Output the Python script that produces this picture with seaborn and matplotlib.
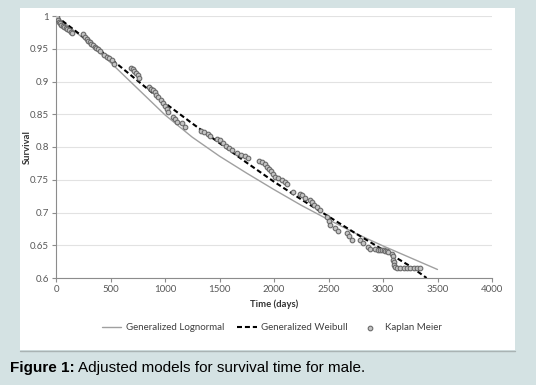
import seaborn as sns
import numpy as np
import pandas as pd
import matplotlib
matplotlib.use("Agg")
from matplotlib import pyplot as plt
from matplotlib.patches import Rectangle
from matplotlib.lines import Line2D

# fitted models
lognormal_days = [0, 250, 500, 750, 1000, 1250, 1500, 1750, 2000, 2250, 2500, 2750, 3000, 3250, 3500]
lognormal_surv = [1.000, 0.966, 0.929, 0.889, 0.849, 0.815, 0.786, 0.760, 0.735, 0.711, 0.689, 0.668, 0.649, 0.631, 0.613]

weibull_days = [0, 250, 500, 750, 1000, 1250, 1500, 1750, 2000, 2250, 2500, 2750, 3000, 3250, 3400]
weibull_surv = [1.000, 0.968, 0.935, 0.901, 0.867, 0.836, 0.806, 0.776, 0.747, 0.720, 0.694, 0.668, 0.643, 0.618, 0.600]

# Kaplan Meier estimates
km_days = [5, 15, 25, 35, 50, 60, 75, 90, 105, 120, 140, 150,
           250, 265, 280, 295, 310, 325, 340, 355, 370, 385, 400,
           440, 465, 490, 510, 530,
           690, 705, 720, 735, 750, 765,
           850, 870, 890, 905, 920, 940, 960, 980,
           1000, 1015, 1030, 1075, 1095, 1110, 1160, 1185,
           1330, 1360, 1390, 1410, 1480, 1500, 1530, 1560, 1590, 1615,
           1665, 1700, 1735, 1760,
           1860, 1890, 1915, 1935, 1955, 1975, 1990, 2010,
           2040, 2070, 2100, 2120, 2175, 2240, 2260, 2285, 2330, 2350, 2370, 2395, 2420,
           2485, 2500, 2515, 2560, 2590,
           2670, 2690, 2715,
           2790, 2820, 2860, 2880,
           2930, 2950, 2970, 2990, 3005, 3020, 3035, 3050,
           3080, 3090, 3095, 3100, 3105, 3110,
           3130, 3160, 3190, 3220, 3250, 3280, 3310, 3340]
km_surv = [0.998, 0.994, 0.991, 0.989, 0.987, 0.985, 0.983, 0.982, 0.980, 0.978, 0.976, 0.974,
           0.972, 0.968, 0.965, 0.962, 0.960, 0.958, 0.955, 0.953, 0.951, 0.949, 0.947,
           0.941, 0.938, 0.936, 0.933, 0.927,
           0.921, 0.919, 0.916, 0.913, 0.910, 0.906,
           0.892, 0.889, 0.887, 0.884, 0.880, 0.876, 0.872, 0.867,
           0.862, 0.858, 0.853, 0.846, 0.843, 0.838, 0.836, 0.830,
           0.825, 0.823, 0.820, 0.817, 0.812, 0.810, 0.806, 0.802, 0.798, 0.795,
           0.791, 0.788, 0.786, 0.783,
           0.779, 0.777, 0.774, 0.770, 0.767, 0.763, 0.759, 0.754,
           0.752, 0.749, 0.747, 0.744, 0.731, 0.729, 0.726, 0.722, 0.719, 0.716, 0.712, 0.708, 0.704,
           0.693, 0.687, 0.681, 0.677, 0.671,
           0.669, 0.664, 0.658,
           0.658, 0.653, 0.648, 0.645,
           0.644, 0.643, 0.643, 0.642, 0.642, 0.641, 0.641, 0.640,
           0.637, 0.633, 0.628, 0.624, 0.620, 0.617,
           0.616, 0.616, 0.616, 0.616, 0.616, 0.616, 0.616, 0.616]

x_ticks = [0, 500, 1000, 1500, 2000, 2500, 3000, 3500, 4000]
y_ticks = [0.6, 0.65, 0.7, 0.75, 0.8, 0.85, 0.9, 0.95, 1.0]
y_tick_labels = ['0.6', '0.65', '0.7', '0.75', '0.8', '0.85', '0.9', '0.95', '1']

sns.set_theme(style="white")
plt.rcParams['font.family'] = ['Lato', 'DejaVu Sans']

W, H = 536, 385
fig = plt.figure(figsize=(W / 100, H / 100), dpi=100)
fig.patch.set_facecolor('#d4e2e3')

# white chart panel
fig.add_artist(Rectangle((20 / W, 1 - 350 / H), 495 / W, 342 / H,
                         transform=fig.transFigure, facecolor='white',
                         edgecolor='none', zorder=0))
fig.add_artist(Line2D([20 / W, 515 / W], [1 - 350.5 / H, 1 - 350.5 / H],
                      transform=fig.transFigure, color='#a9b3b3', lw=1))

ax = fig.add_axes([56 / W, 1 - 278 / H, 436 / W, 262 / H])
ax.set_facecolor('white')

sns.lineplot(x=lognormal_days, y=lognormal_surv, ax=ax, color='#a0a0a0',
             lw=1.0, label='Generalized Lognormal')
sns.lineplot(x=weibull_days, y=weibull_surv, ax=ax, color='black',
             lw=1.5, linestyle=(0, (2.4, 1.4)), label='Generalized Weibull')
sns.scatterplot(x=km_days, y=km_surv, ax=ax, s=11, marker='o',
                color='#c4c4c4', edgecolor='#6a6a6a', linewidth=0.8,
                label='Kaplan Meier', zorder=3)

ax.set_xlim(0, 4000)
ax.set_ylim(0.6, 1.0)
ax.set_xticks(x_ticks)
ax.set_yticks(y_ticks)
ax.set_yticklabels(y_tick_labels)

ax.yaxis.grid(True, color='#e2e2e2', lw=0.8)
ax.xaxis.grid(False)
for side in ['top', 'right']:
    ax.spines[side].set_visible(False)
for side in ['left', 'bottom']:
    ax.spines[side].set_color('#8c8c8c')
    ax.spines[side].set_linewidth(0.8)
ax.tick_params(bottom=True, left=True, direction='out', length=3, width=0.8,
               color='#8c8c8c', labelsize=7, labelcolor='#595959', pad=2)

ax.set_xlabel('Time (days)', fontsize=6.8, fontweight='bold', color='#333333', labelpad=4)
ax.set_ylabel('Survival', fontsize=6.8, fontweight='bold', color='#333333')
ax.yaxis.set_label_coords(-0.055, 0.5)

leg = ax.legend(loc='center', bbox_to_anchor=(0.495, -0.19), ncol=3, frameon=False,
                fontsize=7, handlelength=2.0, columnspacing=1.3, handletextpad=0.5)
for t in leg.get_texts():
    t.set_color('#404040')

# caption
cap1 = fig.text(10 / W, 1 - 368 / H, 'Figure 1:', fontsize=11, fontweight='bold',
                family=['Liberation Sans'], va='center', color='black')
fig.canvas.draw()
bb = cap1.get_window_extent()
fig.text((bb.x1 + 3) / W, 1 - 368 / H, 'Adjusted models for survival time for male.',
         fontsize=11, family=['Liberation Sans'], va='center', color='black')

plt.savefig('out.png', dpi=100, facecolor=fig.get_facecolor())
plt.close()
